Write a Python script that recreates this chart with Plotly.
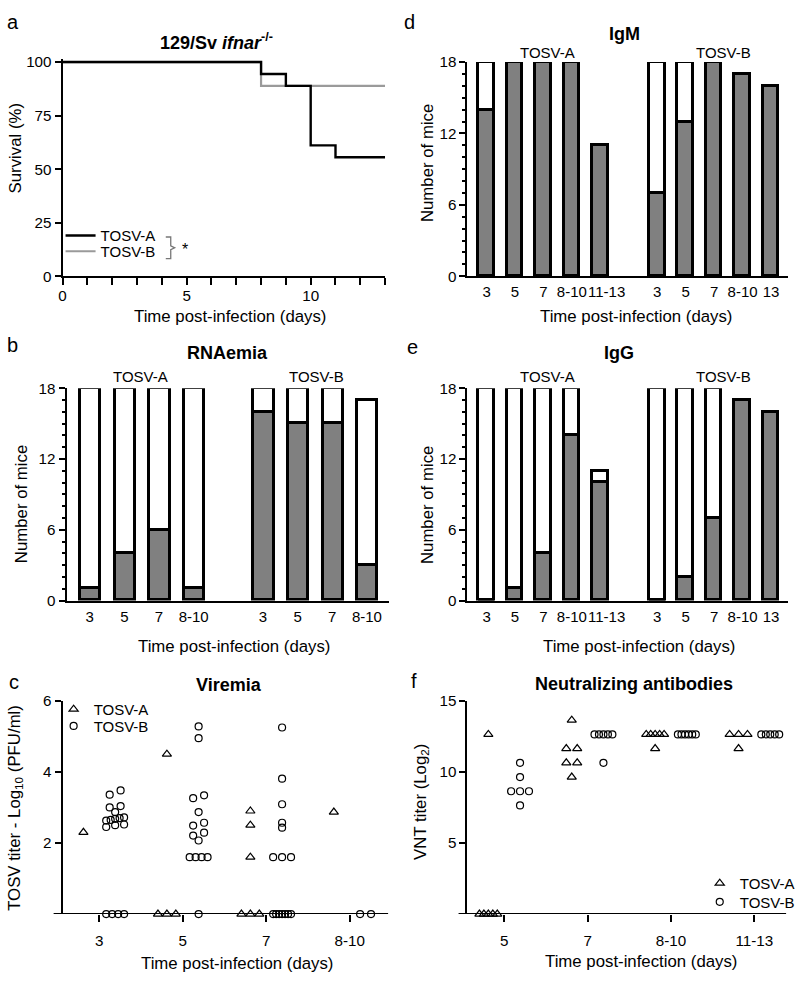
import plotly.graph_objects as go

W, H = 800, 983
FONT = "Liberation Sans, Arial, sans-serif"
TICK = 15.2
AXT = 16.8
TTL = 18

# ---------------- data ----------------
# a: survival (Kaplan-Meier)
surv_days_A = [0, 8, 9, 10, 11, 13]
surv_A = [100, 94.4, 88.9, 61.1, 55.6, 55.6]
surv_days_B = [0, 8, 13]
surv_B = [100, 88.9, 88.9]

# b: RNAemia (number of mice, positive / total)
rna_days_A = ["3", "5", "7", "8-10"]
rna_days_B = ["3", "5", "7", "8-10"]
rna_total_A = [18, 18, 18, 18]
rna_pos_A = [1, 4, 6, 1]
rna_total_B = [18, 18, 18, 17]
rna_pos_B = [16, 15, 15, 3]

# d / e: IgM and IgG
ig_days_A = ["3", "5", "7", "8-10", "11-13"]
ig_days_B = ["3", "5", "7", "8-10", "13"]
igm_total_A = [18, 18, 18, 18, 11]
igm_pos_A = [14, 18, 18, 18, 11]
igm_total_B = [18, 18, 18, 17, 16]
igm_pos_B = [7, 13, 18, 17, 16]
igg_total_A = [18, 18, 18, 18, 11]
igg_pos_A = [0, 1, 4, 14, 10]
igg_total_B = [18, 18, 18, 17, 16]
igg_pos_B = [0, 2, 7, 17, 16]

# c: viremia, log10 PFU/ml
vir_days = ["3", "5", "7", "8-10"]
vir_A = [
    [2.3],
    [4.5, 0, 0, 0],
    [2.9, 2.5, 1.6, 0, 0, 0],
    [2.87],
]
vir_B = [
    [3.48, 3.36, 3.04, 3.0, 2.87, 2.72, 2.7, 2.68, 2.65, 2.63, 2.52, 2.5, 2.45, 0, 0, 0, 0],
    [5.28, 4.95, 3.34, 3.26, 2.87, 2.57, 2.49, 2.29, 2.21, 2.07, 1.6, 1.6, 1.6, 1.6, 0],
    [5.25, 3.81, 3.09, 2.57, 2.43, 1.6, 1.6, 1.6, 0, 0, 0, 0, 0, 0, 0],
    [0, 0],
]

# f: neutralizing antibodies, VNT log2
vnt_days = ["5", "7", "8-10", "11-13"]
vnt_A = [
    [12.64, 0, 0, 0, 0, 0],
    [13.64, 11.64, 11.64, 10.64, 10.64, 9.64],
    [12.64, 12.64, 12.64, 12.64, 12.64, 11.64],
    [12.64, 12.64, 12.64, 11.64],
]
vnt_B = [
    [10.64, 9.64, 8.64, 8.64, 8.64, 7.64],
    [12.64, 12.64, 12.64, 12.64, 12.64, 10.64],
    [12.64, 12.64, 12.64, 12.64, 12.64, 12.64],
    [12.64, 12.64, 12.64, 12.64, 12.64],
]

# ---------------- geometry helpers ----------------
def xdom(p0, p1):
    return [p0 / W, p1 / W]


def ydom(ptop, pbot):
    return [1 - pbot / H, 1 - ptop / H]


def swarm(groups, side, px_x, px_y, tol_px=4.5, width_px=18, max_step_px=11):
    xs, ys = [], []
    for gi, vals in enumerate(groups):
        center = gi + side
        rows = []
        for v in sorted(vals):
            if rows and (v - rows[-1][0]) * px_y < tol_px:
                rows[-1].append(v)
            else:
                rows.append([v])
        for row in rows:
            n = len(row)
            step = min(max_step_px, width_px / (n - 1)) if n > 1 else 0
            for i, v in enumerate(row):
                xs.append(center + (i - (n - 1) / 2) * step / px_x)
                ys.append(v)
    return xs, ys


fig = go.Figure()

# ---------------- a: survival ----------------
fig.add_trace(go.Scatter(x=surv_days_B, y=surv_B, mode="lines", name="TOSV-B",
                         line=dict(shape="hv", color="#9a9a9a", width=2.2),
                         xaxis="x", yaxis="y", legend="legend2"))
fig.add_trace(go.Scatter(x=surv_days_A, y=surv_A, mode="lines", name="TOSV-A",
                         line=dict(shape="hv", color="black", width=2.4),
                         xaxis="x", yaxis="y", legend="legend"))

# ---------------- bar panels ----------------
GRAY = "#808080"


def add_bars(xa, ya, pos_A, tot_A, pos_B, tot_B, width):
    nA = len(pos_A)
    xA = list(range(nA))
    xB = [nA + 1 + i for i in range(len(pos_B))]
    xs = xA + xB
    pos = list(pos_A) + list(pos_B)
    neg = [t - p for t, p in zip(list(tot_A) + list(tot_B), pos)]
    fig.add_trace(go.Bar(x=xs, y=pos, width=width, xaxis=xa, yaxis=ya,
                         marker=dict(color=GRAY, line=dict(color="black", width=3)),
                         showlegend=False, cliponaxis=False))
    fig.add_trace(go.Bar(x=xs, y=neg, width=width, xaxis=xa, yaxis=ya,
                         marker=dict(color="white", line=dict(color="black", width=3)),
                         showlegend=False, cliponaxis=False))
    return xs


def label_pos(xs, labels, nudge=0.22):
    # long labels next to each other are nudged apart so they don't collide
    out = list(xs)
    for i in range(1, len(labels)):
        if len(labels[i]) >= 5 and len(labels[i - 1]) >= 4 and xs[i] - xs[i - 1] == 1:
            out[i] = xs[i] + nudge
    return out


xs_b = add_bars("x2", "y2", rna_pos_A, rna_total_A, rna_pos_B, rna_total_B, 0.58)
xs_d = add_bars("x4", "y4", igm_pos_A, igm_total_A, igm_pos_B, igm_total_B, 0.55)
xs_e = add_bars("x5", "y5", igg_pos_A, igg_total_A, igg_pos_B, igg_total_B, 0.55)
ig_labels = ig_days_A + ig_days_B

# ---------------- c: viremia ----------------
PXX = 84.0
tri = dict(symbol="triangle-up-open", size=8, color="black", line=dict(width=1.2))
cir = dict(symbol="circle-open", size=7, color="black", line=dict(width=1.2))
cA = swarm(vir_A, -0.19, PXX, 217 / 6)
cB = swarm(vir_B, 0.19, PXX, 217 / 6)
fig.add_trace(go.Scatter(x=cA[0], y=cA[1], mode="markers", name="TOSV-A", marker=tri,
                         xaxis="x3", yaxis="y3", legend="legend3", cliponaxis=False))
fig.add_trace(go.Scatter(x=cB[0], y=cB[1], mode="markers", name="TOSV-B", marker=cir,
                         xaxis="x3", yaxis="y3", legend="legend4", cliponaxis=False))

# ---------------- f: VNT ----------------
fA = swarm(vnt_A, -0.19, PXX, 217 / 15)
fB = swarm(vnt_B, 0.19, PXX, 217 / 15)
fig.add_trace(go.Scatter(x=fA[0], y=fA[1], mode="markers", name="TOSV-A", marker=tri,
                         xaxis="x6", yaxis="y6", legend="legend5", cliponaxis=False))
fig.add_trace(go.Scatter(x=fB[0], y=fB[1], mode="markers", name="TOSV-B", marker=cir,
                         xaxis="x6", yaxis="y6", legend="legend6", cliponaxis=False))

# ---------------- axes ----------------
base = dict(showgrid=False, zeroline=False, showline=True, linecolor="black", linewidth=2,
            ticks="outside", tickcolor="black", tickwidth=2, ticklen=6, tickangle=0,
            tickfont=dict(family=FONT, size=TICK, color="black"), fixedrange=True)

# a
fig.update_layout(
    xaxis=dict(base, domain=xdom(59, 384), range=[0, 13], tickvals=[0, 5, 10], ticklen=7,
               minor=dict(tick0=0, dtick=1, ticks="outside", ticklen=7, tickwidth=2, tickcolor="black"),
               ticklabelstandoff=-3, anchor="y"),
    yaxis=dict(base, domain=ydom(54 - 1.5 * 2.18, 272), range=[0, 101.5],
               tickvals=[0, 25, 50, 75, 100], anchor="x"),
)

bar_x = dict(base, ticks="outside", tickcolor="rgba(0,0,0,0)", ticklen=1,
             tickfont=dict(family=FONT, size=15, color="black"))
bar_y = dict(base, range=[0, 18], tickvals=[0, 6, 12, 18],
             minor=dict(tick0=0, dtick=1, ticks="outside", ticklen=3, tickwidth=1.5, tickcolor="black"))

fig.update_layout(
    xaxis2=dict(bar_x, domain=xdom(63, 388), range=[-0.67, 8.64], tickvals=xs_b,
                ticktext=rna_days_A + rna_days_B, anchor="y2"),
    yaxis2=dict(bar_y, domain=ydom(386, 602), anchor="x2"),
    xaxis4=dict(bar_x, domain=xdom(467, 790), range=[-0.67, 10.6],
                tickvals=label_pos(xs_d, ig_labels), ticktext=ig_labels, anchor="y4"),
    yaxis4=dict(bar_y, domain=ydom(54, 272), anchor="x4"),
    xaxis5=dict(bar_x, domain=xdom(467, 790), range=[-0.67, 10.6],
                tickvals=label_pos(xs_e, ig_labels), ticktext=ig_labels, anchor="y5"),
    yaxis5=dict(bar_y, domain=ydom(386, 602), anchor="x5"),
)

fig.update_layout(
    xaxis3=dict(base, showline=False, domain=xdom(59, 387), range=[-0.44, 3.46],
                tickvals=list(range(len(vir_days))), ticktext=vir_days, ticklen=7,
                ticklabelstandoff=6, anchor="y3"),
    yaxis3=dict(base, domain=ydom(704, 921), range=[0, 6], tickvals=[2, 4, 6], anchor="x3"),
    xaxis6=dict(base, showline=False, domain=xdom(467, 788), range=[-0.44, 3.38],
                tickvals=list(range(len(vnt_days))), ticktext=vnt_days, ticklen=7,
                ticklabelstandoff=6, anchor="y6"),
    yaxis6=dict(base, domain=ydom(704, 921), range=[0, 15], tickvals=[5, 10, 15], anchor="x6"),
)

# x-axis lines of c and f that overhang the y axis
shapes = [
    dict(type="line", xref="paper", yref="y3", x0=50 / W, x1=387 / W, y0=0, y1=0,
         line=dict(color="black", width=2), layer="below"),
    dict(type="line", xref="paper", yref="y6", x0=458 / W, x1=788 / W, y0=0, y1=0,
         line=dict(color="black", width=2), layer="below"),
]

# bracket joining the two legend entries of a
bx, by0, by1 = 163, 232, 254
shapes.append(dict(type="path", xref="paper", yref="paper",
                   path=("M {a},{b} L {c},{b} L {c},{d} L {e},{m} L {c},{d2} L {c},{f} L {a},{f}").format(
                       a=bx / W, c=(bx + 5) / W, e=(bx + 9) / W,
                       b=1 - by0 / H, d=1 - (by0 + 9) / H, m=1 - ((by0 + by1) / 2) / H,
                       d2=1 - (by1 - 9) / H, f=1 - by1 / H),
                   line=dict(color="#777777", width=1.3)))

# ---------------- annotations ----------------
anns = []


def ann(text, x, y, size, angle=0, xanchor="center"):
    anns.append(dict(text=text, x=x / W, y=1 - y / H, xref="paper", yref="paper",
                     showarrow=False, textangle=angle, xanchor=xanchor, yanchor="middle",
                     font=dict(family=FONT, size=size, color="black")))


# panel letters
for t, x, y in [("a", 9, 13), ("b", 9, 342), ("c", 10, 685),
                ("d", 409, 13), ("e", 412, 344), ("f", 413, 684)]:
    ann(t, x, y, 20)

# titles
ann("<b>129/Sv <i>ifnar</i><sup>-/-</sup></b>", 214, 33, TTL)
ann("<b>RNAemia</b>", 225, 350, TTL)
ann("<b>Viremia</b>", 227, 688, TTL)
ann("<b>IgM</b>", 625, 25, TTL)
ann("<b>IgG</b>", 620, 350, TTL)
ann("<b>Neutralizing antibodies</b>", 635, 687, TTL)

# group labels
ann("TOSV-A", 138, 374, 15)
ann("TOSV-B", 315, 374, 15)
ann("TOSV-A", 548, 374, 15)
ann("TOSV-B", 725, 374, 15)
ann("TOSV-A", 548, 44, 15)
ann("TOSV-B", 725, 44, 15)

# axis titles
XT = "Time post-infection (days)"
ann(XT, 228, 313, AXT)
ann(XT, 232, 649, AXT)
ann(XT, 235, 971, AXT)
ann(XT, 637, 313, AXT)
ann(XT, 640, 649, AXT)
ann(XT, 642, 969, AXT)
ann("Survival (%)", 12, 142, AXT, -90)
ann("Number of mice", 17, 504, AXT, -90)
ann("Number of mice", 426, 157, AXT, -90)
ann("Number of mice", 426, 505, AXT, -90)
ann("TOSV titer - Log<sub>10</sub> (PFU/ml)", 12, 813, AXT, -90)
ann("VNT titer (Log<sub>2</sub>)", 420, 807, AXT, -90)
ann("*", 182, 245, 16)

leg_font = dict(family=FONT, size=15, color="black")


def leg(xpx, ypx):
    return dict(x=xpx / W, y=1 - ypx / H, xanchor="left", yanchor="top", font=leg_font,
                bgcolor="rgba(0,0,0,0)", borderwidth=0, itemwidth=30, traceorder="normal")


fig.update_layout(
    width=W, height=H, margin=dict(l=0, r=0, t=0, b=0),
    paper_bgcolor="white", plot_bgcolor="white",
    barmode="stack", bargap=0,
    font=dict(family=FONT, color="black"),
    annotations=anns, shapes=shapes,
    legend=leg(57, 214), legend2=leg(57, 230),
    legend3=leg(50, 696), legend4=leg(50, 713),
    legend5=leg(701, 873), legend6=leg(701, 892),
)

fig.write_html("out.html")
